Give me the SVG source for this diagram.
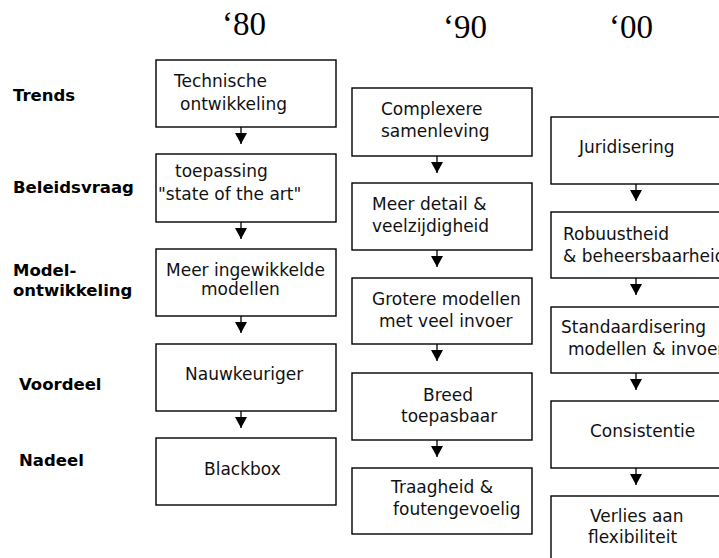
<svg xmlns="http://www.w3.org/2000/svg" width="719" height="558" viewBox="0 0 719 558">
<style>
.box{fill:#fff;stroke:#000;stroke-width:1.4}
.t{font-family:"DejaVu Sans","Verdana",sans-serif;font-size:17px;fill:#111}
.lbl{font-family:"DejaVu Sans","Verdana",sans-serif;font-size:16.5px;font-weight:bold;fill:#000}
.hd{font-family:"Liberation Serif","Times New Roman",serif;font-size:33px;fill:#000}
.c{stroke:#000;stroke-width:1.3;fill:none}
</style>
<defs>
<marker id="ah" markerUnits="userSpaceOnUse" markerWidth="12" markerHeight="12" viewBox="0 0 12 12" refX="11" refY="6" orient="auto">
<path d="M0,0 L11,6 L0,12 Z" fill="#000"/>
</marker>
</defs>
<rect width="719" height="558" fill="#fff"/>
<g id="headers">
<text class="hd" x="222" y="35">‘80</text>
<text class="hd" x="443" y="38">‘90</text>
<text class="hd" x="609" y="38">‘00</text>
</g>
<g id="labels">
<text class="lbl" x="13" y="101">Trends</text>
<text class="lbl" x="13" y="193">Beleidsvraag</text>
<text class="lbl" x="13" y="276">Model-</text>
<text class="lbl" x="13" y="296">ontwikkeling</text>
<text class="lbl" x="19" y="390">Voordeel</text>
<text class="lbl" x="19" y="466">Nadeel</text>
</g>
<g id="connectors">
<line class="c" x1="241" y1="127" x2="241" y2="144" marker-end="url(#ah)"/>
<line class="c" x1="241" y1="222" x2="241" y2="239" marker-end="url(#ah)"/>
<line class="c" x1="241" y1="316" x2="241" y2="333" marker-end="url(#ah)"/>
<line class="c" x1="241" y1="411" x2="241" y2="428" marker-end="url(#ah)"/>
<line class="c" x1="437" y1="156" x2="437" y2="173" marker-end="url(#ah)"/>
<line class="c" x1="437" y1="250" x2="437" y2="267" marker-end="url(#ah)"/>
<line class="c" x1="437" y1="344" x2="437" y2="361" marker-end="url(#ah)"/>
<line class="c" x1="437" y1="440" x2="437" y2="457" marker-end="url(#ah)"/>
<line class="c" x1="636" y1="184" x2="636" y2="201" marker-end="url(#ah)"/>
<line class="c" x1="636" y1="278" x2="636" y2="295" marker-end="url(#ah)"/>
<line class="c" x1="636" y1="373" x2="636" y2="390" marker-end="url(#ah)"/>
<line class="c" x1="636" y1="468" x2="636" y2="485" marker-end="url(#ah)"/>
</g>
<g id="n80a"><rect class="box" x="156" y="60" width="180" height="67"/><text class="t" x="174" y="87">Technische</text><text class="t" x="180" y="110">ontwikkeling</text></g>
<g id="n80b"><rect class="box" x="156" y="154" width="180" height="68"/><text class="t" x="175" y="177">toepassing</text><text class="t" x="158" y="200">"state of the art"</text></g>
<g id="n80c"><rect class="box" x="156" y="249" width="180" height="67"/><text class="t" x="166" y="276">Meer ingewikkelde</text><text class="t" x="201" y="295">modellen</text></g>
<g id="n80d"><rect class="box" x="156" y="344" width="180" height="67"/><text class="t" x="185" y="380">Nauwkeuriger</text></g>
<g id="n80e"><rect class="box" x="156" y="438" width="180" height="67"/><text class="t" x="204" y="475">Blackbox</text></g>
<g id="n90a"><rect class="box" x="352" y="88" width="180" height="68"/><text class="t" x="381" y="115">Complexere</text><text class="t" x="381" y="137">samenleving</text></g>
<g id="n90b"><rect class="box" x="352" y="183" width="180" height="67"/><text class="t" x="372" y="210">Meer detail &amp;</text><text class="t" x="372" y="232">veelzijdigheid</text></g>
<g id="n90c"><rect class="box" x="352" y="278" width="180" height="66"/><text class="t" x="372" y="305">Grotere modellen</text><text class="t" x="379" y="327">met veel invoer</text></g>
<g id="n90d"><rect class="box" x="352" y="373" width="180" height="67"/><text class="t" x="423" y="401">Breed</text><text class="t" x="401" y="422">toepasbaar</text></g>
<g id="n90e"><rect class="box" x="352" y="468" width="180" height="66"/><text class="t" x="391" y="493">Traagheid &amp;</text><text class="t" x="393" y="515">foutengevoelig</text></g>
<g id="n00a"><rect class="box" x="551" y="117" width="180" height="67"/><text class="t" x="579" y="153">Juridisering</text></g>
<g id="n00b"><rect class="box" x="551" y="212" width="180" height="66"/><text class="t" x="563" y="240">Robuustheid</text><text class="t" x="563" y="262">&amp; beheersbaarheid</text></g>
<g id="n00c"><rect class="box" x="551" y="307" width="180" height="66"/><text class="t" x="561" y="333">Standaardisering</text><text class="t" x="568" y="355">modellen &amp;  invoer</text></g>
<g id="n00d"><rect class="box" x="551" y="401" width="180" height="67"/><text class="t" x="590" y="437">Consistentie</text></g>
<g id="n00e"><rect class="box" x="551" y="496" width="180" height="70"/><text class="t" x="590" y="522">Verlies aan</text><text class="t" x="588" y="543">flexibiliteit</text></g>
</svg>
